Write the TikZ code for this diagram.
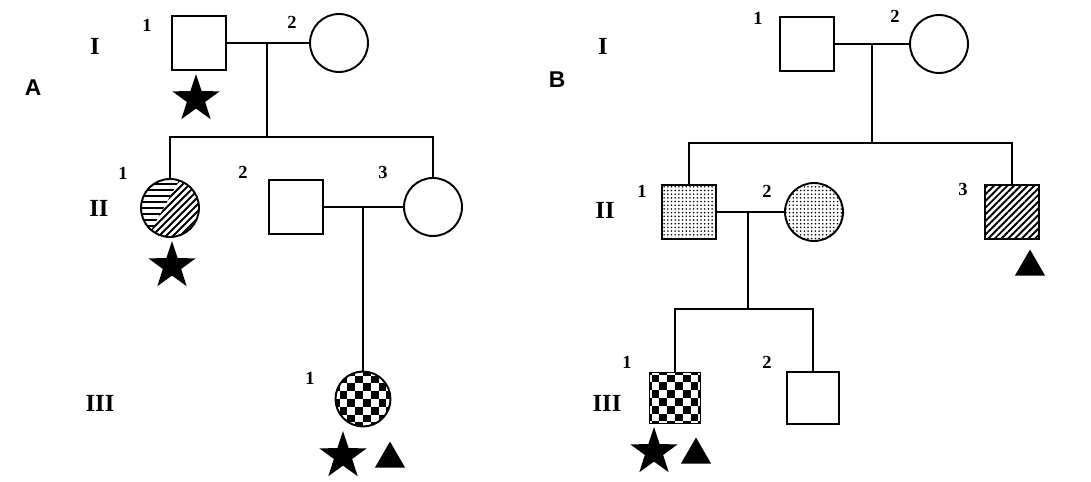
\documentclass[tikz,border=0pt]{standalone}
\usepackage{fontspec}
\setmainfont{Liberation Serif}
\newfontfamily\panelfont{Liberation Sans}
\usepackage{tikz}
\usetikzlibrary{shapes.geometric}
\usetikzlibrary{patterns,patterns.meta}

\tikzset{
	male/.style={draw,rectangle,minimum size=1.07cm,inner sep=0pt},
	female/.style={draw,circle,minimum size=1.16cm,inner sep=0pt},
	stipple/.style={pattern={Dots[distance=2.1pt,radius=0.5pt]}},
	stripes/.style={pattern={Lines[angle=45,distance=2.7pt,line width=1.1pt]}},
	checker/.style={path picture={
		\foreach \i in {-4,...,3}
			\foreach \j in {-4,...,3}{
				\pgfmathtruncatemacro{\k}{mod(\i+\j+10,2)}
				\ifnum\k=0
					\fill ([shift={(\i*7.8,\j*7.8)}]path picture bounding box.center) rectangle +(7.8,7.8);
				\fi
			}
	}},
	halfhatch/.style={path picture={
		\begin{scope}
			\clip ([shift={(-40,-40)}]path picture bounding box.center) -- ++(56,0) -- ++(-42,75) -- ++(-14,0) -- cycle;
			\foreach \d in {-30,-24,...,30}
				\draw[line width=1.1pt] ([shift={(-40,\d)}]path picture bounding box.center) -- ++(80,0);
		\end{scope}
		\begin{scope}
			\clip ([shift={(16,-40)}]path picture bounding box.center) -- ++(30,0) -- ++(0,80) -- ++(-74.8,0) -- cycle;
			\foreach \d in {-60,-53,...,60}
				\draw[line width=1.1pt] ([shift={(\d-40,40)}]path picture bounding box.center) -- ++(80,-80);
		\end{scope}
	}},
	starsym/.style={star,star points=5,star point ratio=2.6,fill=black,inner sep=0pt,minimum size=1cm},
	trisym/.style={regular polygon,regular polygon sides=3,fill=black,inner sep=0pt,minimum size=0.7cm},
	gen/.style={font=\fontsize{14}{14}\selectfont\bfseries},
	num/.style={font=\fontsize{10.5}{10.5}\selectfont\bfseries},
	panel/.style={font=\panelfont\fontsize{13}{13}\selectfont\bfseries}
}

\begin{document}
\begin{tikzpicture}[x=0.02cm,y=-0.02cm,line width=1.1pt]
	\useasboundingbox (0,0) rectangle (1091,482);

	% family A
	\node[panel] (labA) at (33,88) {A};
	\node[gen] (aG1) at (95,46) {I};
	\node[gen] (aG2) at (99,208) {II};
	\node[gen] (aG3) at (100,403) {III};

	\node[male] (aI1) at (199,43) {};
	\node[female] (aI2) at (339,43) {};
	\node[num] (aN11) at (147,25) {1};
	\node[num] (aN12) at (292,22) {2};
	\node[starsym] (aS11) at (196,99) {};

	\node[female,halfhatch] (aII1) at (170,208) {};
	\node[male] (aII2) at (296,207) {};
	\node[female] (aII3) at (433,207) {};
	\node[num] (aN21) at (123,173) {1};
	\node[num] (aN22) at (243,172) {2};
	\node[num] (aN23) at (383,172) {3};
	\node[starsym] (aS21) at (172,266) {};

	\node[female,checker,minimum size=1.1cm] (aIII1) at (363,399) {};
	\node[num] (aN31) at (310,378) {1};
	\node[starsym] (aS31) at (343,456) {};
	\node[trisym] (aT31) at (390,459) {};

	\coordinate (aM1) at (267,43);
	\coordinate (aB1) at (267,137);
	\coordinate (aM2) at (363,207);
	\draw (aI1) -- (aI2);
	\draw (aM1) -- (aB1);
	\draw (aII1.north) |- (aB1) -| (aII3.north);
	\draw (aII2) -- (aII3);
	\draw (aM2) -- (aIII1.north);

	% family B
	\node[panel] (labB) at (557,80) {B};
	\node[gen] (bG1) at (603,46) {I};
	\node[gen] (bG2) at (605,210) {II};
	\node[gen] (bG3) at (607,403) {III};

	\node[male] (bI1) at (807,44) {};
	\node[female] (bI2) at (939,44) {};
	\node[num] (bN11) at (758,18) {1};
	\node[num] (bN12) at (895,16) {2};

	\node[male,stipple] (bII1) at (689,212) {};
	\node[female,stipple] (bII2) at (814,212) {};
	\node[male,stripes] (bII3) at (1012,212) {};
	\node[num] (bN21) at (642,191) {1};
	\node[num] (bN22) at (767,191) {2};
	\node[num] (bN23) at (963,189) {3};
	\node[trisym] (bT23) at (1030,267) {};

	\node[male,checker,minimum size=1.02cm] (bIII1) at (675,398) {};
	\node[male,minimum size=1.04cm] (bIII2) at (813,398) {};
	\node[num] (bN31) at (627,362) {1};
	\node[num] (bN32) at (767,362) {2};
	\node[starsym] (bS31) at (654,452) {};
	\node[trisym] (bT31) at (696,455) {};

	\coordinate (bM1) at (872,44);
	\coordinate (bB1) at (872,143);
	\coordinate (bM2) at (748,212);
	\coordinate (bB2) at (748,309);
	\draw (bI1) -- (bI2);
	\draw (bM1) -- (bB1);
	\draw (bII1.north) |- (bB1) -| (bII3.north);
	\draw (bII1) -- (bII2);
	\draw (bM2) -- (bB2);
	\draw (bIII1.north) |- (bB2) -| (bIII2.north);
\end{tikzpicture}
\end{document}
